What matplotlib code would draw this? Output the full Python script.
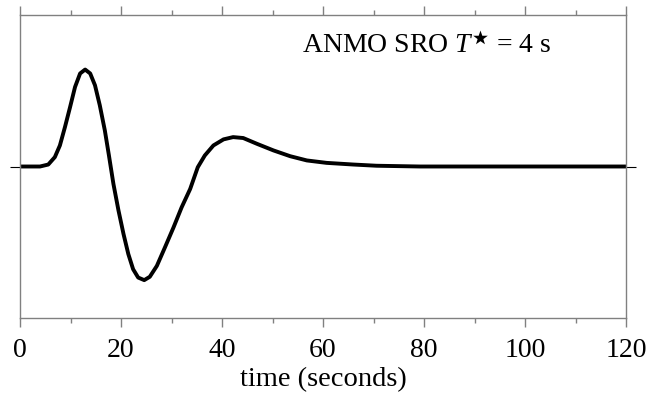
import matplotlib
matplotlib.use("Agg")
import matplotlib.pyplot as plt
from matplotlib.ticker import MultipleLocator

plt.rcParams['font.family'] = ['Liberation Serif', 'DejaVu Serif']
plt.rcParams['mathtext.fontset'] = 'custom'
plt.rcParams['mathtext.rm'] = 'Liberation Serif'
plt.rcParams['mathtext.it'] = 'Liberation Serif:italic'
plt.rcParams['mathtext.fallback'] = 'stix'

# waveform (time in s, normalised amplitude)
time = [0, 3.96, 5.6, 6.9, 7.9, 8.9, 9.9, 10.9, 11.9, 12.9, 13.9, 14.85,
        15.8, 16.8, 17.6, 18.5, 19.5, 20.5, 21.45, 22.4, 23.4, 24.6, 25.7,
        27.1, 28.7, 30.4, 32.0, 33.7, 35.2, 36.6, 38.3, 40.3, 42.2, 44.2,
        46.9, 50.2, 53.5, 56.8, 60.7, 66.0, 70.6, 79.2, 120]
amp = [0, 0, 0.013, 0.062, 0.139, 0.26, 0.39, 0.525, 0.614, 0.64, 0.614,
       0.536, 0.404, 0.238, 0.075, -0.115, -0.29, -0.446, -0.578, -0.678,
       -0.733, -0.75, -0.728, -0.656, -0.534, -0.402, -0.27, -0.148, -0.005,
       0.073, 0.139, 0.179, 0.194, 0.188, 0.15, 0.106, 0.068, 0.04, 0.024,
       0.013, 0.005, 0, 0]

label = r'ANMO SRO $T^{\bigstar}$ = 4 s'

fig = plt.figure(figsize=(6.47, 4.0), dpi=100)
ax = fig.add_axes([20 / 647, 1 - 318 / 400, 606 / 647, 303 / 400])

ax.plot(time, amp, color='black', lw=2.8, solid_joinstyle='round',
        solid_capstyle='butt', clip_on=False)

ax.set_xlim(0, 120)
ax.set_ylim(-1, 1)

ax.xaxis.set_major_locator(MultipleLocator(20))
ax.xaxis.set_minor_locator(MultipleLocator(10))
ax.set_yticks([0])
ax.set_yticklabels([])

for s in ax.spines.values():
    s.set_color('#808080')
    s.set_linewidth(1.0)

ax.tick_params(axis='x', which='both', direction='out', top=True, color='#808080',
               width=1.0, labelsize=20, pad=8)
ax.tick_params(axis='x', which='major', length=6.5)
ax.tick_params(axis='x', which='minor', length=3.6)
ax.tick_params(axis='y', which='major', direction='out', left=True, right=True,
               length=7.2, width=0.8, color='black')

ax.set_xlabel('time (seconds)', fontsize=20.5, labelpad=3)

ax.text(0.465, 0.875, label, transform=ax.transAxes, fontsize=20,
        ha='left', va='baseline')

fig.savefig('out.png', dpi=100)
